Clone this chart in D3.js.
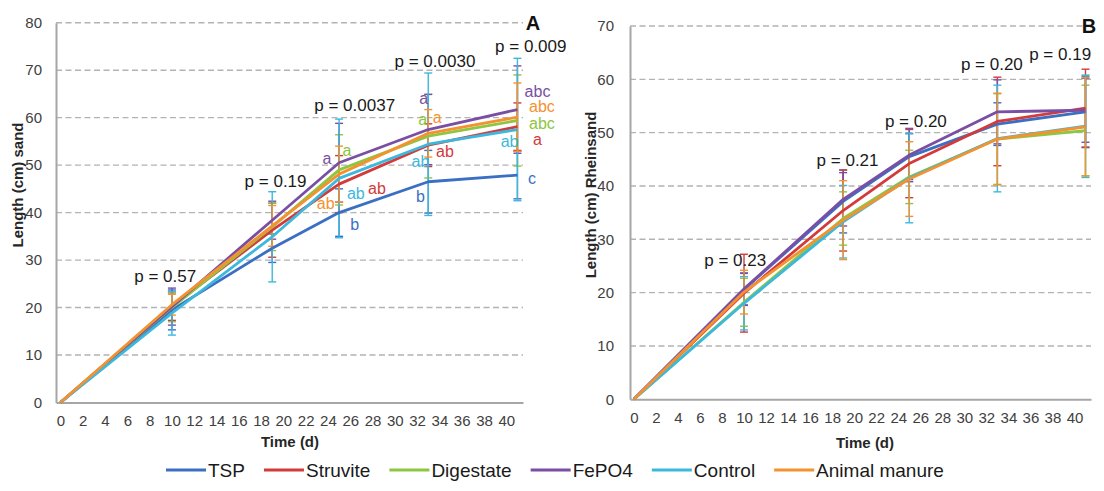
<!DOCTYPE html>
<html>
<head>
<meta charset="utf-8">
<script src="https://cdn.jsdelivr.net/npm/d3@7"></script>
<style>
  body { margin: 0; background: #fff; }
  svg { display: block; font-family: "Liberation Sans", Arial, sans-serif; }
</style>
</head>
<body>
<div id="chart"></div>
<script>
// ---- data ----
const times = [0, 10, 19, 25, 33, 41];
const seriesNames = ["TSP", "Struvite", "Digestate", "FePO4", "Control", "Animal manure"];
const xTicks = [0, 2, 4, 6, 8, 10, 12, 14, 16, 18, 20, 22, 24, 26, 28, 30, 32, 34, 36, 38, 40];
const yTicksSand = [0, 10, 20, 30, 40, 50, 60, 70, 80];
const yTicksRhein = [0, 10, 20, 30, 40, 50, 60, 70];

// panel A, length in sand (mean, error)
const sandMean = [
  [0, 19.5, 32.5, 40.0, 46.5, 47.9],
  [0, 20.3, 36.3, 46.0, 54.2, 58.1],
  [0, 20.0, 37.0, 49.0, 56.1, 59.4],
  [0, 20.2, 38.4, 50.5, 57.5, 61.7],
  [0, 18.8, 34.9, 47.2, 54.4, 57.5],
  [0, 20.6, 37.2, 48.1, 56.7, 60.1]
];
const sandErr = [
  [0, 4.2, 3.0, 5.0, 6.6, 5.0],
  [0, 3.0, 5.7, 6.0, 4.5, 5.0],
  [0, 3.0, 5.0, 7.4, 8.8, 9.6],
  [0, 3.9, 4.0, 8.3, 7.4, 9.2],
  [0, 4.6, 9.5, 12.5, 15.0, 15.0],
  [0, 2.2, 4.3, 5.9, 5.0, 7.2]
];
// panel B, length in Rheinsand
const rheinMean = [
  [0, 20.6, 37.1, 45.5, 51.6, 53.9],
  [0, 19.9, 35.4, 44.2, 52.1, 54.6],
  [0, 18.2, 33.9, 41.7, 48.8, 50.4],
  [0, 20.7, 37.5, 45.8, 53.9, 54.2],
  [0, 18.0, 33.3, 41.5, 48.9, 51.2],
  [0, 20.1, 33.6, 41.3, 48.8, 51.1]
];
const rheinErr = [
  [0, 3.0, 5.9, 4.3, 4.0, 6.7],
  [0, 7.3, 7.6, 6.4, 8.3, 7.3],
  [0, 4.5, 5.0, 5.0, 8.5, 8.5],
  [0, 3.0, 5.0, 5.0, 6.0, 6.0],
  [0, 5.0, 6.8, 8.4, 10.0, 9.6],
  [0, 4.1, 7.4, 7.0, 8.6, 9.2]
];

const pTextSand = ["p = 0.57", "p = 0.19", "p = 0.0037", "p = 0.0030", "p = 0.009"];
const pTextRhein = ["p = 0.23", "p = 0.21", "p = 0.20", "p = 0.20", "p = 0.19"];

// significance letters (series index, time index, text)
const sandLetters = [
  [3, 3, "a"], [2, 3, "a"], [5, 3, "ab"], [4, 3, "ab"], [1, 3, "ab"], [0, 3, "b"],
  [3, 4, "a"], [2, 4, "a"], [5, 4, "a"], [4, 4, "ab"], [1, 4, "ab"], [0, 4, "b"],
  [3, 5, "abc"], [5, 5, "abc"], [2, 5, "abc"], [1, 5, "a"], [4, 5, "ab"], [0, 5, "c"]
];

// ---- layout (data units for annotation anchors) ----
const pPosSand = [[9.4, 26.5], [19.3, 46.5], [26.4, 62.5], [33.6, 71.8], [42.2, 74.9]];
const pPosRhein = [[9.2, 26.1], [19.4, 44.7], [25.6, 52.0], [32.5, 62.7], [38.7, 64.6]];
const sandLetterPos = [
  [23.9, 51.4], [25.7, 53.0], [23.8, 42.0], [26.5, 44.1], [28.4, 45.1], [26.4, 37.4],
  [32.6, 64.1], [32.5, 59.7], [33.8, 60.1], [32.3, 50.7], [34.5, 52.8], [32.3, 43.3],
  [42.8, 65.6], [43.2, 62.3], [43.2, 58.8], [42.8, 55.5], [40.3, 54.9], [42.3, 47.2]
];

const colors = ["#3b6fc4", "#d33a3a", "#8dc641", "#7a4fa3", "#3cb8dd", "#f4922f"];

const width = 1104, height = 491;
const svg = d3.select("#chart").append("svg")
  .attr("width", width)
  .attr("height", height);

function drawPanel(cfg) {
  const x = d3.scaleLinear().domain(cfg.xDomain).range(cfg.xRange);
  const y = d3.scaleLinear().domain(cfg.yDomain).range(cfg.yRange);
  const g = svg.append("g");

  // gridlines
  g.selectAll(".grid")
    .data(cfg.yTicks.filter(v => v > 0))
    .enter().append("line")
    .attr("x1", cfg.xRange[0]).attr("x2", cfg.xRange[1])
    .attr("y1", d => y(d)).attr("y2", d => y(d))
    .attr("stroke", "#b3b3b3")
    .attr("stroke-width", 1.4)
    .attr("stroke-dasharray", "6,3.5");

  // y axis
  const yAxis = d3.axisLeft(y).tickValues(cfg.yTicks).tickSize(0).tickPadding(cfg.yPad);
  const ya = g.append("g").attr("transform", `translate(${cfg.xRange[0]},0)`).call(yAxis);
  ya.select(".domain").attr("stroke", "#a6a6a6").attr("stroke-width", 2);
  ya.selectAll("text").attr("font-size", 15).attr("fill", "#404040")
    .attr("font-family", "Liberation Sans, Arial, sans-serif");

  // x axis
  const xAxis = d3.axisBottom(x).tickValues(xTicks).tickSize(0).tickPadding(13);
  const xa = g.append("g").attr("transform", `translate(0,${cfg.yRange[0]})`).call(xAxis);
  xa.select(".domain").attr("stroke", "#a6a6a6").attr("stroke-width", 2);
  xa.selectAll("text").attr("font-size", 15).attr("fill", "#404040")
    .attr("font-family", "Liberation Sans, Arial, sans-serif");

  // error bars
  cfg.mean.forEach((vals, si) => {
    const eg = g.append("g").attr("stroke", colors[si]).attr("stroke-width", 1.4);
    vals.forEach((v, i) => {
      const e = cfg.err[si][i];
      if (!e) return;
      const cx = x(times[i]);
      eg.append("line").attr("x1", cx).attr("x2", cx).attr("y1", y(v - e)).attr("y2", y(v + e));
      eg.append("line").attr("x1", cx - 4).attr("x2", cx + 4).attr("y1", y(v - e)).attr("y2", y(v - e));
      eg.append("line").attr("x1", cx - 4).attr("x2", cx + 4).attr("y1", y(v + e)).attr("y2", y(v + e));
    });
  });

  // lines
  const line = d3.line().x((d, i) => x(times[i])).y(d => y(d));
  cfg.mean.forEach((vals, si) => {
    g.append("path")
      .datum(vals)
      .attr("d", line)
      .attr("fill", "none")
      .attr("stroke", colors[si])
      .attr("stroke-width", 2.8)
      .attr("stroke-linejoin", "round");
  });

  // p value labels
  g.selectAll(".plab")
    .data(cfg.pText)
    .enter().append("text")
    .attr("x", (d, i) => x(cfg.pPos[i][0]))
    .attr("y", (d, i) => y(cfg.pPos[i][1]))
    .attr("text-anchor", "middle")
    .attr("dominant-baseline", "central")
    .attr("font-size", 17)
    .attr("fill", "#1a1a1a")
    .text(d => d);

  // significance letters
  if (cfg.letters) {
    g.selectAll(".lett")
      .data(cfg.letters)
      .enter().append("text")
      .attr("x", (d, i) => x(cfg.letterPos[i][0]))
      .attr("y", (d, i) => y(cfg.letterPos[i][1]))
      .attr("text-anchor", "middle")
      .attr("dominant-baseline", "central")
      .attr("font-size", 16)
      .attr("fill", d => colors[d[0]])
      .text(d => d[2]);
  }

  // axis titles
  g.append("text")
    .attr("x", cfg.xTitle[0]).attr("y", cfg.xTitle[1])
    .attr("text-anchor", "middle").attr("dominant-baseline", "central")
    .attr("font-size", 15).attr("font-weight", "bold").attr("fill", "#262626")
    .text("Time (d)");
  g.append("text")
    .attr("transform", `translate(${cfg.yTitle[0]},${cfg.yTitle[1]}) rotate(-90)`)
    .attr("text-anchor", "middle").attr("dominant-baseline", "central")
    .attr("font-size", 15).attr("font-weight", "bold").attr("fill", "#262626")
    .text(cfg.yLabel);

  // panel letter
  g.append("text")
    .attr("x", cfg.tag[0]).attr("y", cfg.tag[1])
    .attr("text-anchor", "middle").attr("dominant-baseline", "central")
    .attr("font-size", 20).attr("font-weight", "bold").attr("fill", "#111")
    .text(cfg.tagText);
}

drawPanel({
  xDomain: [-0.4, 41.5], xRange: [56, 523],
  yDomain: [0, 80], yRange: [402.5, 22.7],
  yTicks: yTicksSand, yPad: 14,
  mean: sandMean, err: sandErr,
  pText: pTextSand, pPos: pPosSand,
  letters: sandLetters, letterPos: sandLetterPos,
  xTitle: [290, 441], yTitle: [17.5, 185], yLabel: "Length (cm) sand",
  tag: [533, 23], tagText: "A"
});

drawPanel({
  xDomain: [-0.35, 41.5], xRange: [630, 1091],
  yDomain: [0, 70], yRange: [399.3, 26],
  yTicks: yTicksRhein, yPad: 16,
  mean: rheinMean, err: rheinErr,
  pText: pTextRhein, pPos: pPosRhein,
  xTitle: [865, 442], yTitle: [590, 195], yLabel: "Length (cm) Rheinsand",
  tag: [1089, 26], tagText: "B"
});

// legend
const legend = svg.append("g").attr("transform", "translate(166,470)");
let lx = 0;
seriesNames.forEach((name, i) => {
  legend.append("line")
    .attr("x1", lx).attr("x2", lx + 40)
    .attr("y1", 0).attr("y2", 0)
    .attr("stroke", colors[i]).attr("stroke-width", 3);
  const t = legend.append("text")
    .attr("x", lx + 42).attr("y", 0)
    .attr("dominant-baseline", "central")
    .attr("font-size", 19).attr("fill", "#1a1a1a")
    .text(name);
  lx += 42 + t.node().getComputedTextLength() + 19;
});
</script>
</body>
</html>
